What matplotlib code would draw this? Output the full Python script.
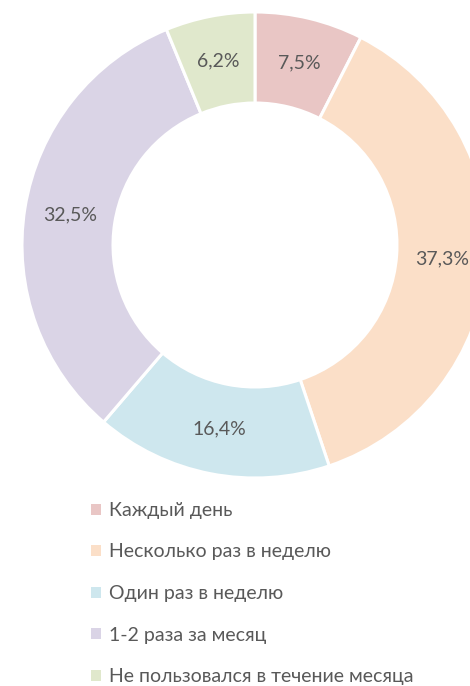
import matplotlib
matplotlib.use("Agg")
import matplotlib.pyplot as plt
from matplotlib.patches import Patch
import numpy as np

categories = ["Каждый день", "Несколько раз в неделю", "Один раз в неделю",
              "1-2 раза за месяц", "Не пользовался в течение месяца"]
values = [7.5, 37.3, 16.4, 32.5, 6.2]
labels = ["7,5%", "37,3%", "16,4%", "32,5%", "6,2%"]
colors = ["#E9C6C5", "#FBDFC8", "#CEE7EE", "#DAD4E6", "#E0E8CC"]

plt.rcParams['font.family'] = ['Lato', 'DejaVu Sans']
text_color = "#595959"

fig = plt.figure(figsize=(4.70, 6.86), dpi=100)
ax = fig.add_axes([22/470, (686-478)/686, 466/470, 466/686])
R = 1.0
width = 91/233
wedges, _ = ax.pie(values, startangle=90, counterclock=False, colors=colors,
                   radius=R, wedgeprops=dict(width=width, edgecolor="white", linewidth=2.2))
mid_r = R - width/2
for w, lab in zip(wedges, labels):
    ang = np.deg2rad((w.theta1 + w.theta2)/2)
    ax.text(mid_r*np.cos(ang), mid_r*np.sin(ang), lab, ha="center", va="center",
            fontsize=14, color=text_color)
ax.set_xlim(-1, 1)
ax.set_ylim(-1, 1)
ax.set_aspect("equal")
ax.axis("off")

handles = [Patch(facecolor=c, edgecolor="none") for c in colors]
fig.legend(handles, categories, loc="upper left", bbox_to_anchor=(91/470, 1-502/686),
           frameon=False, fontsize=14, labelcolor=text_color, handlelength=0.5,
           handleheight=0.5, handletextpad=0.45, labelspacing=1.26, borderaxespad=0,
           borderpad=0)
fig.savefig("out.png", dpi=100)
